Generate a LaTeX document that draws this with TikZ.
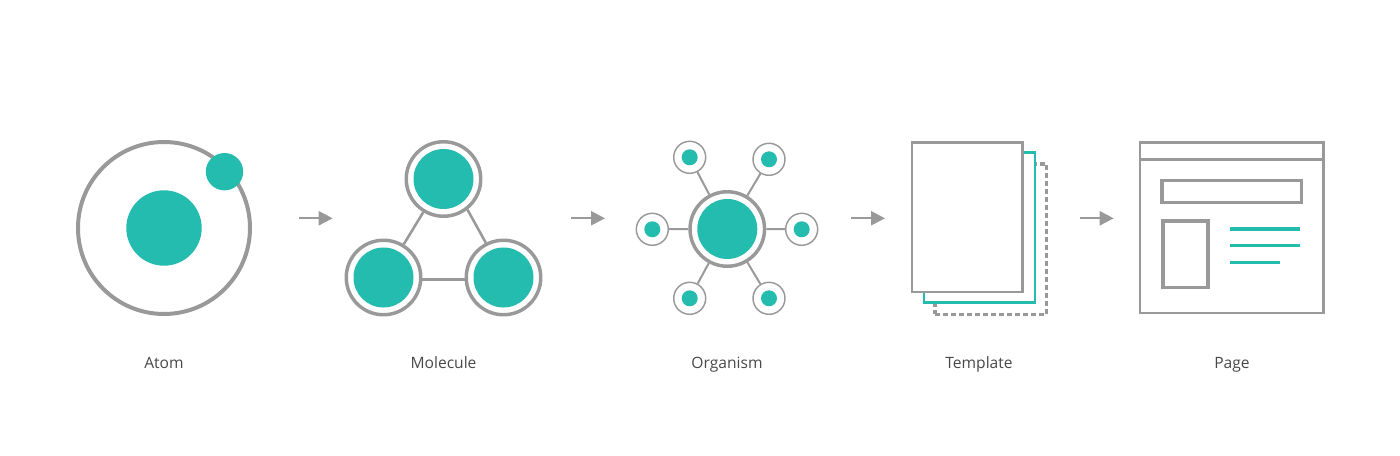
\documentclass[tikz,border=0pt]{standalone}
\usepackage{fontspec}
\setmainfont{Open Sans}
\usetikzlibrary{arrows.meta}
\definecolor{ggray}{HTML}{999999}
\definecolor{tteal}{HTML}{25BCB0}
\definecolor{lbl}{HTML}{484848}
\tikzset{
  ringbig/.style={circle,draw=ggray,line width=3pt,fill=white,inner sep=0pt,minimum size=172*0.75pt},
  ring/.style={circle,draw=ggray,line width=2.6pt,fill=white,inner sep=0pt,minimum size=74.5*0.75pt},
  sat/.style={circle,draw=ggray,line width=1.1pt,fill=white,inner sep=0pt,minimum size=32*0.75pt},
  dotA/.style={circle,fill=tteal,inner sep=0pt,minimum size=60*0.75pt},
  dotB/.style={circle,fill=tteal,inner sep=0pt,minimum size=16*0.75pt},
  dotC/.style={circle,fill=tteal,inner sep=0pt,minimum size=75.4*0.75pt},
  link/.style={draw=ggray,line width=1.9pt},
  thinlink/.style={draw=ggray,line width=1.5pt},
  flow/.style={draw=ggray,line width=1.7pt,-{Triangle[length=10.5pt,width=10.5pt]}},
  sheet/.style={rectangle,draw=ggray,line width=2.2pt,fill=white,inner sep=0pt},
  sheetB/.style={sheet,line width=2.5pt},
  sheetT/.style={rectangle,draw=tteal,line width=2.2pt,fill=white,inner sep=0pt},
  sheetD/.style={rectangle,draw=ggray,line width=2.3pt,dash pattern=on 3.4pt off 2.6pt,inner sep=0pt},
  txtline/.style={draw=tteal,line width=2.4pt},
  lab/.style={text=lbl,font=\fontsize{11.7}{14}\selectfont,inner sep=0pt,anchor=base}
}
\begin{document}
\begin{tikzpicture}[x=0.75pt,y=-0.75pt]
\useasboundingbox (0,0) rectangle (1400,456);
% Atom
\node[ringbig] (atomring) at (164,228) {};
\node[dotC] (atomcore) at (164,228) {};
\node[circle,fill=tteal,inner sep=0pt,minimum size=37.4*0.75pt] (atomel) at (224.5,171.7) {};
\node[lab] (latom) at (164,368) {Atom};
% Molecule
\node[ring] (m1) at (443.5,179) {};
\node[ring] (m2) at (383.5,277.5) {};
\node[ring] (m3) at (503.5,277.5) {};
\node[dotA] (m1d) at (443.5,179) {};
\node[dotA] (m2d) at (383.5,277.5) {};
\node[dotA] (m3d) at (503.5,277.5) {};
\draw[link] (m1) -- (m2);
\draw[link] (m1.-52.5) -- (m3.117);
\draw[link] ([yshift=-1.4pt]m2.east) -- ([yshift=-1.4pt]m3.west);
\node[lab] (lmol) at (443.5,368) {Molecule};
% Organism
\node[ring] (o) at (727.3,229) {};
\node[dotA] (od) at (727.3,229) {};
\foreach \n/\x/\y in {a/689.7/157.3,b/769/159.3,c/652.3/229.3,d/801.7/229.3,e/689.7/298.3,f/769/298.3}{
  \node[sat] (s\n) at (\x,\y) {};
  \node[dotB] (s\n d) at (\x,\y) {};
  \draw[thinlink] (o) -- (s\n);
}
\node[lab] (lorg) at (727,368) {Organism};
% Template
\node[sheetD,minimum width=111.7*0.75pt,minimum height=150.3*0.75pt] (tdash) at (990.85,239.15) {};
\node[sheetT,minimum width=111*0.75pt,minimum height=150.4*0.75pt] (tteal) at (979.5,227.5) {};
\node[sheet,minimum width=110.3*0.75pt,minimum height=149.3*0.75pt] (tfront) at (967.15,217.35) {};
\node[lab] (ltpl) at (979,368) {Template};
% Page
\node[sheet,minimum width=183.3*0.75pt,minimum height=170.3*0.75pt] (page) at (1231.65,227.85) {};
\coordinate (hl) at (1140,159.3);
\coordinate (hr) at (1323.3,159.3);
\draw[draw=ggray,line width=2.4pt] (hl) -- (hr);
\node[sheetB,minimum width=139.3*0.75pt,minimum height=22*0.75pt] (search) at (1231.65,191.7) {};
\node[sheetB,minimum width=45*0.75pt,minimum height=66.3*0.75pt] (img) at (1185.5,254.15) {};
\coordinate (l1a) at (1230.3,229); \coordinate (l1b) at (1300,229);
\coordinate (l2a) at (1230.3,245.7); \coordinate (l2b) at (1300,245.7);
\coordinate (l3a) at (1230.3,262.3); \coordinate (l3b) at (1280,262.3);
\draw[txtline] (l1a) -- (l1b);
\draw[txtline] (l2a) -- (l2b);
\draw[txtline] (l3a) -- (l3b);
\node[lab] (lpage) at (1232,368) {Page};
% Arrows
\foreach \i/\a/\b in {1/299/332.7,2/571/605,3/851.3/885,4/1080/1113.7}{
  \coordinate (f\i a) at (\a,218.3);
  \coordinate (f\i b) at (\b,218.3);
  \draw[flow] (f\i a) -- (f\i b);
}
\end{tikzpicture}
\end{document}
